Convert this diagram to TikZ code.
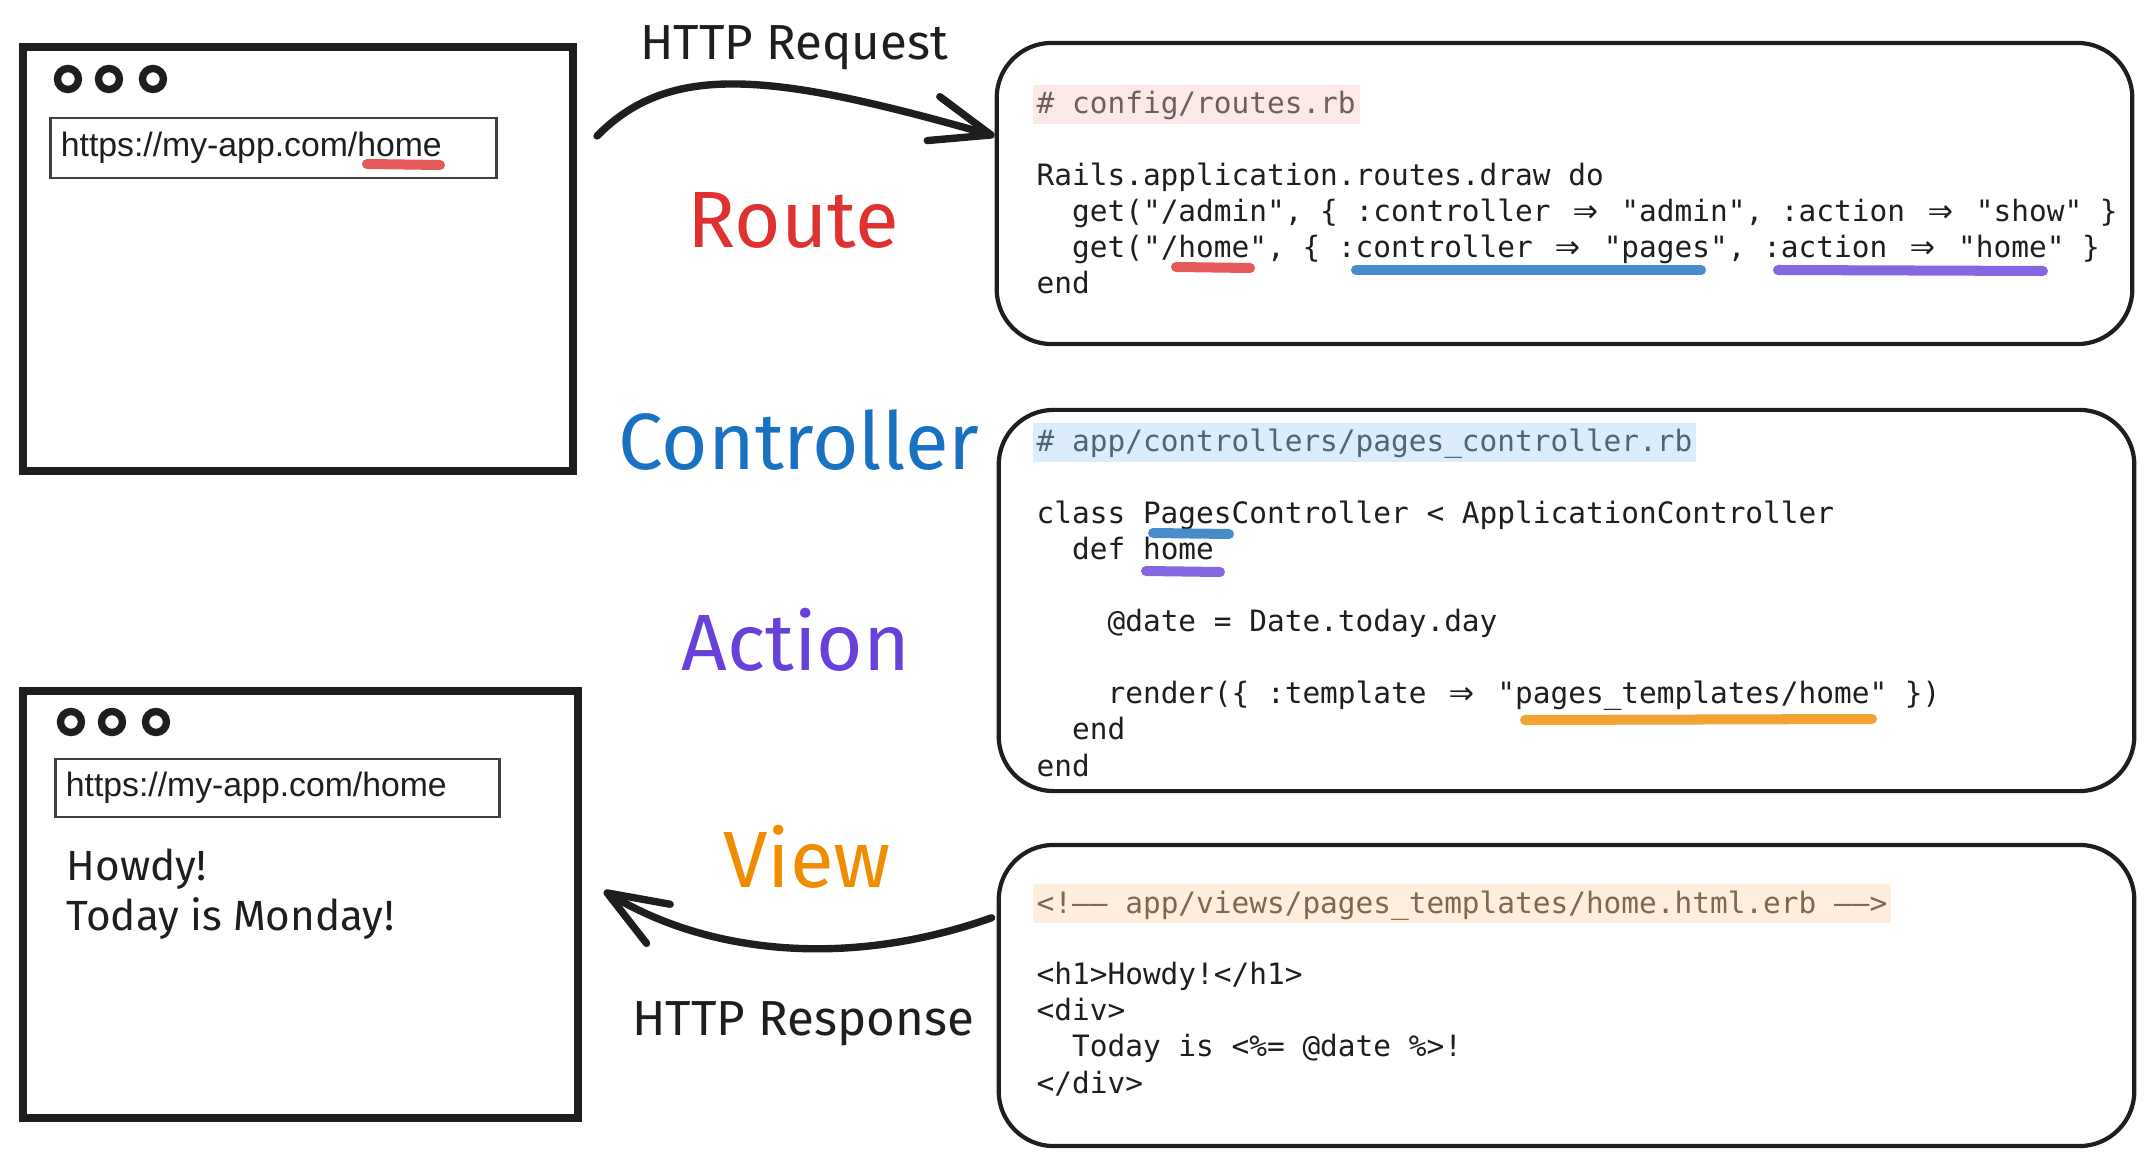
\documentclass[tikz,border=0pt]{standalone}
\usepackage{fontspec}
\usepackage{graphicx}
\usepackage{tikz}
\usetikzlibrary{positioning,calc,arrows.meta}
\usepackage{xcolor}
\newfontfamily\handfont{Fira Sans}
\newfontfamily\codefont{DejaVu Sans Mono}
\newfontfamily\urlfont{Liberation Sans}
\definecolor{inkblack}{RGB}{30,30,30}
\definecolor{routered}{RGB}{224,49,49}
\definecolor{ctrlblue}{RGB}{25,113,194}
\definecolor{actionpurple}{RGB}{103,65,217}
\definecolor{vieworange}{RGB}{240,140,0}
\definecolor{routebg}{RGB}{253,232,232}
\definecolor{ctrlbg}{RGB}{219,237,252}
\definecolor{viewbg}{RGB}{255,238,222}
\definecolor{routecmt}{RGB}{110,95,95}
\definecolor{ctrlcmt}{RGB}{80,100,120}
\definecolor{viewcmt}{RGB}{125,105,80}
\newcommand\arr{\makebox[1.204em]{\raisebox{-0.05em}{\scalebox{1.4}{⇒}}}}

\begin{document}
\begin{tikzpicture}[
    x=0.01cm, y=-0.01cm,
    browser/.style={draw=inkblack, line width=2.2pt, minimum width=5.5cm,
        minimum height=4.24cm, inner sep=0pt},
    dot/.style={circle, draw=inkblack, line width=2.1pt, minimum size=0.21cm,
        inner sep=0pt},
    urlbar/.style={draw=inkblack!85, line width=0.8pt, minimum height=0.6cm,
        inner xsep=0.1cm, inner ysep=0pt, align=left, text=inkblack,
        font=\urlfont\fontsize{9.6}{11}\selectfont},
    handtext/.style={font=\handfont\fontsize{12}{14.2}\selectfont, text=inkblack,
        align=left, inner sep=0pt, anchor=base west},
    codebox/.style={draw=inkblack, line width=1.2pt, rounded corners=0.55cm,
        minimum width=11.35cm, minimum height=3.01cm, inner sep=0pt},
    codehead/.style={font=\codefont\fontsize{8.37}{10.24}\selectfont,
        inner xsep=0.04cm, inner ysep=0pt, text height=8.25pt, text depth=2.85pt,
        anchor=base west},
    code/.style={font=\codefont\fontsize{8.37}{10.24}\selectfont, text=inkblack,
        inner sep=0pt, align=left, anchor=base west},
    stage/.style={font=\handfont\fontsize{22.7}{27}\selectfont, anchor=base},
    caption/.style={font=\handfont\fontsize{14}{17}\selectfont, text=inkblack,
        anchor=base},
    flow/.style={draw=inkblack, line width=2.1pt, line cap=round,
        -{Straight Barb[length=17pt, width=13pt, line cap=round, line join=round]}},
    hilite/.style={line width=2.85pt, line cap=round, opacity=0.8}
]
    \useasboundingbox (0,0) rectangle (2154,1167);

    \node[browser] (browser1) at (298,259) {};
    \node[browser, minimum width=5.55cm, minimum height=4.27cm] (browser2) at (300.5,904.5) {};
    \foreach \dx [count=\i] in {49,90,134} {
        \node[dot] (b1dot\i) at ($(browser1.north west)+(\dx,36)$) {};
        \node[dot] (b2dot\i) at ($(browser2.north west)+(\dx+3,35)$) {};
    }
    \node[urlbar, text width=4.25cm] (url1) at (273.5,148) {https://my-app.com/home};
    \node[urlbar, text width=4.23cm, minimum height=0.58cm] (url2) at (277.5,788) {https://my-app.com/home};
    % base anchor of a multi-line node sits on its last line
    \node[handtext] (greeting) at (66,930) {Howdy!\\Today is Monday!};
    \draw[hilite, routered] (367,164) -- (440,165);

    \node[codebox] (routesfile) at (1564.5,193.5) {};
    \node[codebox, minimum width=11.35cm, minimum height=3.81cm] (ctrlfile) at (1566.5,600.5) {};
    \node[codebox] (viewfile) at (1566.5,995.5) {};

    \node[codehead, fill=routebg, text=routecmt] (routeshead) at (1032,114) {\# config/routes.rb};
    \node[code] (routescode) at (1036,294) {Rails.application.routes.draw do\\
        ~~get("/admin", \{ :controller \arr{} "admin", :action \arr{} "show" \}\\
        ~~get("/home", \{ :controller \arr{} "pages", :action \arr{} "home" \}\\
        end};
    \draw[hilite, routered] (1176,267) -- (1250,268);
    \draw[hilite, ctrlblue] (1356,270) -- (1701,270);
    \draw[hilite, actionpurple] (1778,270) -- (2043,271);

    \node[codehead, fill=ctrlbg, text=ctrlcmt] (ctrlhead) at (1032,452) {\# app/controllers/pages\_controller.rb};
    \node[code] (ctrlcode) at (1036,776) {class PagesController < ApplicationController\\
        ~~def home\\
        \mbox{}\\
        ~~~~@date = Date.today.day\\
        \mbox{}\\
        ~~~~render(\{ :template \arr{} "pages\_templates/home" \})\\
        ~~end\\
        end};
    \draw[hilite, ctrlblue] (1153,533) -- (1229,534);
    \draw[hilite, actionpurple] (1146,571) -- (1220,572);
    \draw[hilite, vieworange] (1525,720) -- (1872,719);

    \node[codehead, fill=viewbg, text=viewcmt] (viewhead) at (1032,913) {<!—— app/views/pages\_templates/home.html.erb ——>};
    \node[code] (viewcode) at (1036,1093) {<h1>Howdy!</h1>\\
        <div>\\
        ~~Today is <\%= @date \%>!\\
        </div>};

    \node[caption] (reqlabel) at (794,60) {HTTP Request};
    \node[stage, text=routered] (routelabel) at (793,248) {Route};
    \node[stage, text=ctrlblue] (ctrllabel) at (799,470) {Controller};
    \node[stage, text=actionpurple] (actionlabel) at (796,670) {Action};
    \node[stage, text=vieworange] (viewlabel) at (807,887) {View};
    \node[caption] (resplabel) at (803,1035) {HTTP Response};

    \coordinate (reqfrom) at ($(browser1.north east)+(20,93)$);
    \coordinate (respfrom) at ($(viewfile.north west)+(-5,75)$);
    \coordinate (respto) at ($(browser2.north east)+(22,204)$);
    \draw[flow] (reqfrom) .. controls (670,62) and (770,72) .. (routesfile.west |- reqfrom);
    \draw[flow] (respfrom) .. controls (850,968) and (710,955) .. (respto);
\end{tikzpicture}
\end{document}
